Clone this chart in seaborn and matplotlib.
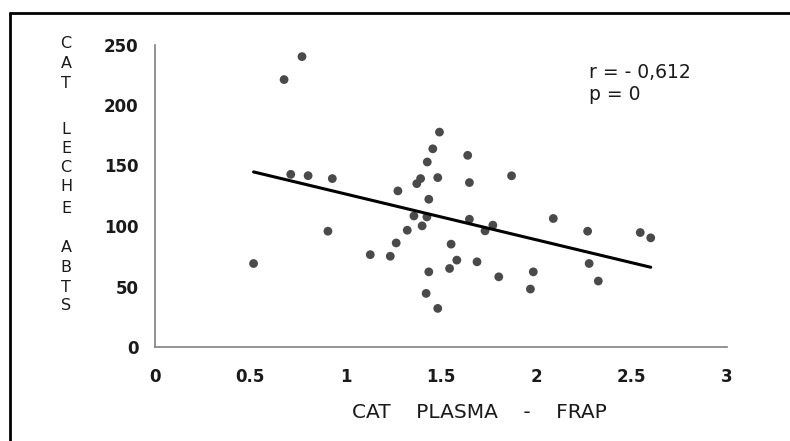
import matplotlib
matplotlib.use("Agg")
import matplotlib.pyplot as plt
import seaborn as sns
import pandas as pd
from matplotlib.lines import Line2D

# Data
cat_plasma_frap = [0.517, 0.677, 0.771, 0.712, 0.803, 0.930, 0.907, 1.129, 1.234, 1.265,
                   1.274, 1.323, 1.358, 1.373, 1.393, 1.401, 1.426, 1.436, 1.428, 1.457,
                   1.492, 1.483, 1.422, 1.436, 1.483, 1.545, 1.553, 1.583, 1.640, 1.649,
                   1.649, 1.689, 1.731, 1.772, 1.803, 1.870, 1.969, 1.984, 2.089, 2.269,
                   2.277, 2.325, 2.545, 2.600]
cat_leche_abts = [69, 221, 240, 142.7, 141.6, 139.2, 95.7, 76.3, 75, 86,
                  129, 96.5, 108.3, 135, 139.2, 100.1, 107.5, 122.1, 152.9, 163.8,
                  177.6, 140, 44.3, 62.1, 31.9, 64.9, 85, 71.8, 158.4, 135.9,
                  105.6, 70.4, 96, 100.7, 58, 141.5, 47.9, 62.1, 106.2, 95.7,
                  69, 54.5, 94.6, 90.2]
x_ticks = [0, 0.5, 1, 1.5, 2, 2.5, 3]
x_tick_labels = ["0", "0.5", "1", "1.5", "2", "2.5", "3"]
y_ticks = [0, 50, 100, 150, 200, 250]
y_tick_labels = ["0", "50", "100", "150", "200", "250"]
annotation_lines = ["r = - 0,612", "p = 0"]
y_label_letters = ["C", "A", "T", "L", "E", "C", "H", "E", "A", "B", "T", "S"]
x_label_text = "CAT    PLASMA    -    FRAP"

df = pd.DataFrame({"frap": cat_plasma_frap, "abts": cat_leche_abts})

sns.set_style("white")
plt.rcParams["font.family"] = ["DejaVu Sans"]

W, H = 790, 441
fig = plt.figure(figsize=(W / 100, H / 100), dpi=100)
fig.patch.set_facecolor("white")

# axes placement in pixels
left, right, top, bottom = 155, 727, 44.5, 347
ax = fig.add_axes([left / W, 1 - bottom / H, (right - left) / W, (bottom - top) / H])

sns.scatterplot(data=df, x="frap", y="abts", ax=ax, color="#4a4a4a", s=40,
                edgecolor="none", linewidth=0, zorder=3)
sns.regplot(data=df, x="frap", y="abts", ax=ax, scatter=False, ci=None,
            line_kws={"color": "black", "linewidth": 2.2, "zorder": 4})

ax.set_xlim(0, 3)
ax.set_ylim(0, 250)
ax.set_xticks(x_ticks)
ax.set_xticklabels(x_tick_labels, fontweight="bold", fontsize=12, color="#1a1a1a")
ax.set_yticks(y_ticks)
ax.set_yticklabels(y_tick_labels, fontweight="bold", fontsize=12, color="#1a1a1a")
ax.set_xlabel("")
ax.set_ylabel("")
for s in ["top", "right"]:
    ax.spines[s].set_visible(False)
for s in ["left", "bottom"]:
    ax.spines[s].set_color("#808080")
    ax.spines[s].set_linewidth(1.2)
ax.tick_params(axis="both", direction="out", length=5, width=1.2, color="#808080")
ax.tick_params(axis="x", pad=10)
ax.tick_params(axis="y", pad=7)

# annotation
fig.text(589 / W, 1 - 72 / H, annotation_lines[0], fontsize=13.5,
         va="center", ha="left", color="#1a1a1a")
fig.text(589 / W, 1 - 95 / H, annotation_lines[1], fontsize=13.5,
         va="center", ha="left", color="#1a1a1a")

# vertical stacked y label
letter_y = [43, 63, 83, 130, 148, 167, 187, 209, 248, 268, 288, 306]
for ch, yy in zip(y_label_letters, letter_y):
    fig.text(66 / W, 1 - yy / H, ch, fontsize=11.5,
             ha="center", va="center", color="#1a1a1a")

# x label
fig.text(479 / W, 1 - 413 / H, x_label_text, fontsize=14.5,
         ha="center", va="center", color="#1a1a1a")

# outer frame (top and left edges visible)
fig.add_artist(Line2D([10 / W, 1.0], [1 - 13 / H, 1 - 13 / H], color="black", linewidth=2,
                      transform=fig.transFigure))
fig.add_artist(Line2D([10 / W, 10 / W], [1 - 13 / H, 0], color="black", linewidth=2,
                      transform=fig.transFigure))

fig.savefig("out.png", dpi=100)
